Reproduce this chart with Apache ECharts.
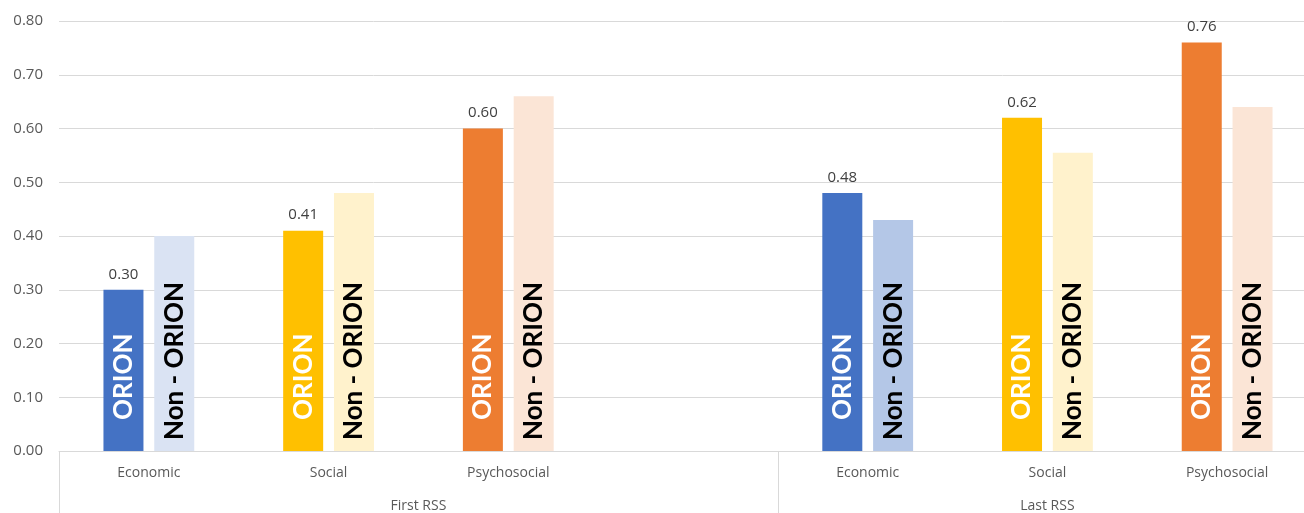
<!DOCTYPE html>
<html>
<head>
<meta charset="utf-8">
<script src="https://cdn.jsdelivr.net/npm/echarts@6/dist/echarts.min.js"></script>
<style>
html,body{margin:0;padding:0;background:#fff;overflow:hidden;}
#c{width:1317px;height:513px;}
</style>
</head>
<body>
<div id="c"></div>
<script>
const categories = ['Economic', 'Social', 'Psychosocial', '', 'Economic', 'Social', 'Psychosocial'];
const groups = ['First RSS', 'Last RSS'];
const groupSizes = [4, 3];
const orion = [0.30, 0.41, 0.60, null, 0.48, 0.62, 0.76];
const nonOrion = [0.40, 0.48, 0.66, null, 0.43, 0.555, 0.64];
const yTicks = [0, 0.1, 0.2, 0.3, 0.4, 0.5, 0.6, 0.7, 0.8];
const orionColors = ['#4472C4', '#FFC000', '#ED7D31', null, '#4472C4', '#FFC000', '#ED7D31'];
const nonColors = ['#DAE3F3', '#FFF2CC', '#FBE5D6', null, '#B4C7E7', '#FFF2CC', '#FBE5D6'];

// group boundaries and centres in category units
const bounds = [0];
groupSizes.forEach(s => bounds.push(bounds[bounds.length - 1] + s));
const centres = groupSizes.map((s, i) => bounds[i] + s / 2);

const chart = echarts.init(document.getElementById('c'));
const inLabel = {
  show: true, position: 'insideBottom', rotate: 90, align: 'left', verticalAlign: 'middle',
  fontFamily: 'Lato', fontWeight: 'bold', fontSize: 26
};
chart.setOption({
  animation: false,
  grid: { left: 59, top: 21, right: 0, bottom: 62, containLabel: false },
  xAxis: [{
    type: 'category', data: categories,
    axisLine: { lineStyle: { color: '#d9d9d9' } },
    axisTick: { show: false },
    axisLabel: { color: '#595959', fontFamily: 'Open Sans', fontSize: 14, margin: 15, interval: 0 }
  }, {
    type: 'value', min: 0, max: bounds[bounds.length - 1], position: 'bottom',
    axisLine: { show: false }, splitLine: { show: false },
    axisTick: { show: true, customValues: bounds, length: 62, lineStyle: { color: '#d9d9d9' } },
    axisLabel: {
      customValues: centres, margin: 48, color: '#595959', fontFamily: 'Open Sans', fontSize: 14,
      formatter: v => { const i = centres.indexOf(v); return i >= 0 ? groups[i] : ''; }
    }
  }],
  yAxis: {
    type: 'value', min: yTicks[0], max: yTicks[yTicks.length - 1], interval: 0.1,
    axisLine: { show: false }, axisTick: { show: false },
    splitLine: { lineStyle: { color: '#d9d9d9' } },
    axisLabel: { color: '#595959', fontFamily: 'Open Sans', fontSize: 15, margin: 16, formatter: v => v.toFixed(2) }
  },
  series: [{
    name: 'ORION', type: 'bar', stack: 'o', barWidth: 40, barGap: '27%',
    data: orion.map((v, i) => ({ value: v, itemStyle: { color: orionColors[i] } })),
    label: Object.assign({}, inLabel, { distance: 31, color: '#ffffff', formatter: 'ORION' })
  }, {
    name: 'ORION value', type: 'bar', stack: 'o', barWidth: 40, barGap: '27%',
    data: orion.map(v => v == null ? null : 0),
    itemStyle: { color: 'rgba(0,0,0,0)' },
    label: {
      show: true, position: 'top', distance: 8, color: '#404040', fontFamily: 'Open Sans', fontSize: 15,
      formatter: p => orion[p.dataIndex].toFixed(2)
    }
  }, {
    name: 'Non - ORION', type: 'bar', barWidth: 40, barGap: '27%',
    data: nonOrion.map((v, i) => ({ value: v, itemStyle: { color: nonColors[i] } })),
    label: Object.assign({}, inLabel, { distance: 11, color: '#000000', formatter: 'Non - ORION' })
  }]
});
</script>
</body>
</html>
